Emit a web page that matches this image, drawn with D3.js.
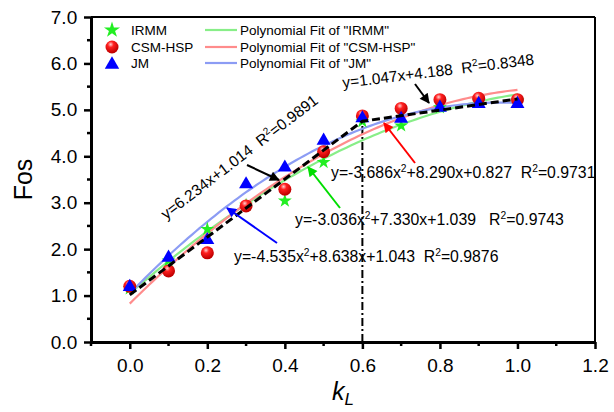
<!DOCTYPE html>
<html>
<head>
<meta charset="utf-8">
<script src="https://cdn.jsdelivr.net/npm/d3@7"></script>
<style>
  body { margin: 0; background: #fff; }
  text { font-family: "Liberation Sans", Arial, sans-serif; white-space: pre; }
</style>
</head>
<body>
<div id="chart"></div>
<script>
var kL = [0.0, 0.1, 0.2, 0.3, 0.4, 0.5, 0.6, 0.7, 0.8, 0.9, 1.0];
var irmm = [1.15, 1.75, 2.43, 2.95, 3.04, 3.87, 4.75, 4.66, 5.05, 5.18, 5.2];
var csm = [1.2, 1.53, 1.92, 2.93, 3.29, 4.1, 4.87, 5.03, 5.22, 5.25, 5.22];
var jm = [1.22, 1.85, 2.23, 3.43, 3.79, 4.37, 4.85, 4.84, 5.08, 5.16, 5.16];

// polynomial fit coefficients [a, b, c] for y = a x^2 + b x + c
var fitIRMM = [-3.036, 7.330, 1.039];
var fitCSM = [-3.686, 8.290, 0.827];
var fitJM = [-4.535, 8.638, 1.043];

// bilinear fit: two lines [slope, intercept] and their x ranges
var lin1 = [6.234, 1.014], lin1Range = [0, 0.6];
var lin2 = [1.047, 4.188], lin2Range = [0.6, 1.0];

var xTicks = [0.0, 0.2, 0.4, 0.6, 0.8, 1.0, 1.2];
var yTicks = [0, 1, 2, 3, 4, 5, 6, 7];

var width = 614, height = 412;
var pLeft = 91, pRight = 595, pTop = 17, pBottom = 342;

var svg = d3.select('#chart').append('svg')
  .attr('width', width)
  .attr('height', height);

var defs = svg.append('defs');
var grad = defs.append('radialGradient').attr('id', 'ball')
  .attr('cx', '40%').attr('cy', '30%').attr('r', '65%');
grad.append('stop').attr('offset', '0%').attr('stop-color', '#ffd0d0');
grad.append('stop').attr('offset', '35%').attr('stop-color', '#ff2020');
grad.append('stop').attr('offset', '100%').attr('stop-color', '#c00000');

function arrowHead(id, color) {
  defs.append('marker').attr('id', id)
    .attr('viewBox', '0 0 10 10').attr('refX', 9).attr('refY', 5)
    .attr('markerWidth', 6).attr('markerHeight', 5)
    .attr('markerUnits', 'strokeWidth')
    .attr('orient', 'auto')
    .append('path').attr('d', 'M0,0 L10,5 L0,10 z').attr('fill', color);
}
arrowHead('aBlack', '#000');
arrowHead('aRed', '#ff0000');
arrowHead('aGreen', '#00dd00');
arrowHead('aBlue', '#0000ff');

var x = d3.scaleLinear().domain([-0.1, 1.2]).range([pLeft, pRight]);
var y = d3.scaleLinear().domain([0, 7]).range([pBottom, pTop]);

// frame
svg.append('line').attr('x1', pLeft).attr('x2', pRight).attr('y1', pTop).attr('y2', pTop)
  .attr('stroke', '#000').attr('stroke-width', 2);
svg.append('line').attr('x1', pRight).attr('x2', pRight).attr('y1', pTop).attr('y2', pBottom)
  .attr('stroke', '#000').attr('stroke-width', 2);

// axes
var xAxis = svg.append('g').attr('transform', 'translate(0,' + pBottom + ')')
  .call(d3.axisBottom(x).tickValues(xTicks).tickFormat(d3.format('.1f')).tickSize(7).tickSizeOuter(0));
var yAxis = svg.append('g').attr('transform', 'translate(' + pLeft + ',0)')
  .call(d3.axisLeft(y).tickValues(yTicks).tickFormat(d3.format('.1f')).tickSize(7).tickSizeOuter(0));

// minor ticks
svg.append('g').selectAll('line')
  .data([-0.1, 0.1, 0.3, 0.5, 0.7, 0.9, 1.1])
  .enter().append('line')
  .attr('x1', function(d){ return x(d); }).attr('x2', function(d){ return x(d); })
  .attr('y1', pBottom).attr('y2', pBottom + 4)
  .attr('stroke', '#000').attr('stroke-width', 2.5);
svg.append('g').selectAll('line')
  .data([0.5, 1.5, 2.5, 3.5, 4.5, 5.5, 6.5])
  .enter().append('line')
  .attr('y1', function(d){ return y(d); }).attr('y2', function(d){ return y(d); })
  .attr('x1', pLeft).attr('x2', pLeft - 4)
  .attr('stroke', '#000').attr('stroke-width', 2.5);

[xAxis, yAxis].forEach(function(g) {
  g.select('.domain').attr('stroke-width', 3);
  g.selectAll('.tick line').attr('stroke-width', 2.5);
  g.selectAll('.tick text').attr('font-size', 19).attr('fill', '#000')
    .style('font-family', '"Liberation Sans", Arial, sans-serif');
});
xAxis.selectAll('.tick text').attr('dy', '1.05em');
yAxis.selectAll('.tick text').attr('dx', '-0.2em');

// axis titles
svg.append('text').attr('transform', 'translate(32,' + ((pTop + pBottom) / 2) + ') rotate(-90)')
  .attr('text-anchor', 'middle').attr('font-size', 25).text('Fos');
var kt = svg.append('text').attr('x', (pLeft + pRight) / 2).attr('y', 400)
  .attr('text-anchor', 'middle').attr('font-size', 25).attr('font-style', 'italic');
kt.append('tspan').text('k');
kt.append('tspan').attr('font-size', 17).attr('dy', 5).text('L');

// vertical dash-dot line at kL = 0.6
svg.append('line')
  .attr('x1', x(0.6)).attr('x2', x(0.6))
  .attr('y1', y(0)).attr('y2', y(lin1[0] * 0.6 + lin1[1]))
  .attr('stroke', '#000').attr('stroke-width', 2)
  .attr('stroke-dasharray', '8,3,2,3');

// polynomial fit curves
var fits = [
  { c: fitIRMM, color: '#88ee88' },
  { c: fitCSM, color: '#ff8c8c' },
  { c: fitJM, color: '#8c9cf4' }
];
var xs = d3.range(0, 1.0001, 0.01);
var line = d3.line().x(function(d){ return x(d[0]); }).y(function(d){ return y(d[1]); });
fits.forEach(function(f) {
  svg.append('path')
    .attr('d', line(xs.map(function(v){ return [v, f.c[0] * v * v + f.c[1] * v + f.c[2]]; })))
    .attr('fill', 'none').attr('stroke', f.color).attr('stroke-width', 2.2);
});

// markers
var star = d3.symbol().type(d3.symbolStar).size(60);
var tri = d3.symbol().type(d3.symbolTriangle).size(85);

svg.append('g').selectAll('path')
  .data(irmm).enter().append('path')
  .attr('d', star)
  .attr('transform', function(d, i){ return 'translate(' + x(kL[i]) + ',' + y(d) + ')'; })
  .attr('fill', '#22ee22');

svg.append('g').selectAll('circle')
  .data(csm).enter().append('circle')
  .attr('cx', function(d, i){ return x(kL[i]); })
  .attr('cy', function(d){ return y(d); })
  .attr('r', 6.5)
  .attr('fill', 'url(#ball)');

svg.append('g').selectAll('path')
  .data(jm).enter().append('path')
  .attr('d', tri)
  .attr('transform', function(d, i){ return 'translate(' + x(kL[i]) + ',' + (y(d) + 1.5) + ')'; })
  .attr('fill', '#0000ff');

// bilinear dashed fit
var bil = [
  [lin1Range[0], lin1[0] * lin1Range[0] + lin1[1]],
  [lin1Range[1], lin1[0] * lin1Range[1] + lin1[1]],
  [lin2Range[1], lin2[0] * lin2Range[1] + lin2[1]]
];
svg.append('path').attr('d', line(bil))
  .attr('fill', 'none').attr('stroke', '#000').attr('stroke-width', 3)
  .attr('stroke-dasharray', '8,4');

// annotations
function eq(g, parts, fs) {
  var t = g.append('text').attr('font-size', fs).attr('fill', '#000');
  parts.forEach(function(p) {
    if (p.sup) t.append('tspan').attr('font-size', fs * 0.65).attr('dy', -fs * 0.38).text(p.t);
    else t.append('tspan').attr('dy', p.after ? fs * 0.38 : 0).text(p.t);
  });
  return t;
}

eq(svg.append('g').attr('transform', 'translate(166,220) rotate(-37.5)'),
  [{ t: 'y=6.234x+1.014  R' }, { t: '2', sup: true }, { t: '=0.9891', after: true }], 15.5);
eq(svg.append('g').attr('transform', 'translate(343,88) rotate(-7)'),
  [{ t: 'y=1.047x+4.188  R' }, { t: '2', sup: true }, { t: '=0.8348', after: true }], 15.5);
eq(svg.append('g').attr('transform', 'translate(331,178)'),
  [{ t: 'y=-3.686x' }, { t: '2', sup: true }, { t: '+8.290x+0.827  R', after: true }, { t: '2', sup: true }, { t: '=0.9731', after: true }], 15.8);
eq(svg.append('g').attr('transform', 'translate(295,225)'),
  [{ t: 'y=-3.036x' }, { t: '2', sup: true }, { t: '+7.330x+1.039   R', after: true }, { t: '2', sup: true }, { t: '=0.9743', after: true }], 15.8);
eq(svg.append('g').attr('transform', 'translate(234,262)'),
  [{ t: 'y=-4.535x' }, { t: '2', sup: true }, { t: '+8.638x+1.043  R', after: true }, { t: '2', sup: true }, { t: '=0.9876', after: true }], 15.8);

var arrows = [
  { x1: 247, y1: 165, x2: 279, y2: 180, m: 'aBlack', c: '#000' },
  { x1: 415, y1: 84, x2: 429, y2: 103, m: 'aBlack', c: '#000' },
  { x1: 415, y1: 163, x2: 384, y2: 123, m: 'aRed', c: '#ff0000' },
  { x1: 340, y1: 208, x2: 308, y2: 167, m: 'aGreen', c: '#00dd00' },
  { x1: 277, y1: 243, x2: 227, y2: 208, m: 'aBlue', c: '#0000ff' }
];
svg.append('g').selectAll('line').data(arrows).enter().append('line')
  .attr('x1', function(d){ return d.x1; }).attr('y1', function(d){ return d.y1; })
  .attr('x2', function(d){ return d.x2; }).attr('y2', function(d){ return d.y2; })
  .attr('stroke', function(d){ return d.c; }).attr('stroke-width', 2)
  .attr('marker-end', function(d){ return 'url(#' + d.m + ')'; });

// legend
var legNames = ['IRMM', 'CSM-HSP', 'JM'];
var legY = [30, 47, 63];
var lg = svg.append('g');
lg.append('path').attr('d', d3.symbol().type(d3.symbolStar).size(80))
  .attr('transform', 'translate(112,' + legY[0] + ')').attr('fill', '#22ee22');
lg.append('circle').attr('cx', 112).attr('cy', legY[1]).attr('r', 6.5).attr('fill', 'url(#ball)');
lg.append('path').attr('d', d3.symbol().type(d3.symbolTriangle).size(90))
  .attr('transform', 'translate(112,' + (legY[2] + 1.5) + ')').attr('fill', '#0000ff');
legNames.forEach(function(n, i) {
  lg.append('text').attr('x', 131).attr('y', legY[i] + 5).attr('font-size', 13.5).text(n);
  lg.append('line').attr('x1', 205).attr('x2', 237).attr('y1', legY[i]).attr('y2', legY[i])
    .attr('stroke', fits[i].color).attr('stroke-width', 2.2);
  lg.append('text').attr('x', 240).attr('y', legY[i] + 5).attr('font-size', 13.5)
    .text('Polynomial Fit of "' + n + '"');
});
</script>
</body>
</html>
